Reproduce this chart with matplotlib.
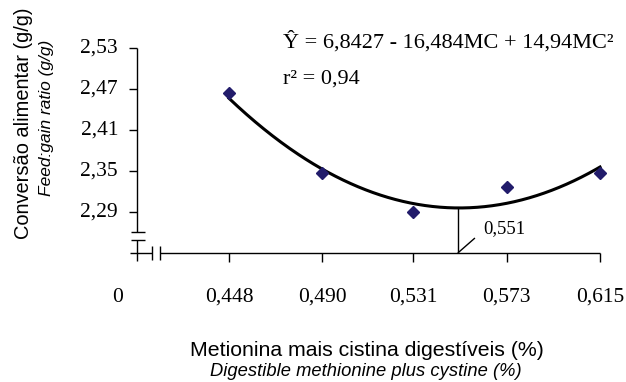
import numpy as np
import matplotlib
matplotlib.use("Agg")
import matplotlib.pyplot as plt

# Data
x_levels = [0.448, 0.490, 0.531, 0.573, 0.615]
x_labels = ["0,448", "0,490", "0,531", "0,573", "0,615"]
y_obs = [2.464, 2.347, 2.290, 2.327, 2.347]
y_ticks = [2.29, 2.35, 2.41, 2.47, 2.53]
y_ticklabels = ["2,29", "2,35", "2,41", "2,47", "2,53"]
coef = [6.8427, -16.484, 14.94]
x_opt = 0.551

W, H = 626, 382
fig = plt.figure(figsize=(W / 100, H / 100), dpi=100)

SERIF = "Liberation Serif"
SANS = "Liberation Sans"

def fx(px):
    return px / W

def fy(py):
    return 1 - py / H

# axes covering the plotting area in pixels: x 137..600, y 48..253
ax = fig.add_axes([fx(137), fy(253), fx(600 - 137), (253 - 48) / H])
xmin = 0.448 - (229 - 137) / 2222.0
xmax = 0.615
ymin, ymax = 2.53 - (253 - 48) / 683.0, 2.53
ax.set_xlim(xmin, xmax)
ax.set_ylim(ymin, ymax)
ax.axis("off")

# pixel-to-data helpers
def dx(px):
    return xmin + (px - 137) / 2222.0

def dy(py):
    return 2.53 - (py - 48) / 683.0

lk = dict(color="black", lw=1.0, clip_on=False, solid_capstyle="butt")
# y axis with break
ax.plot([xmin, xmin], [ymax, dy(232)], **lk)
ax.plot([dx(131), dx(145)], [dy(232), dy(232)], **lk)
ax.plot([dx(131), dx(145)], [dy(240), dy(240)], **lk)
ax.plot([xmin, xmin], [dy(240), dy(261)], **lk)
# x axis with break
ax.plot([dx(130), dx(152)], [ymin, ymin], **lk)
ax.plot([dx(152), dx(152)], [dy(246), dy(260)], **lk)
ax.plot([dx(160), dx(160)], [dy(246), dy(260)], **lk)
ax.plot([dx(160), xmax], [ymin, ymin], **lk)

# y ticks
for yt in y_ticks:
    ax.plot([dx(129), xmin], [yt, yt], **lk)
# x ticks
for xt in x_levels:
    ax.plot([xt, xt], [ymin, dy(262)], **lk)

# tick labels
TFS = 15.5
for yt, lab in zip(y_ticks, y_ticklabels):
    ax.text(dx(118), yt, lab, ha="right", va="center", fontsize=TFS,
            family=SERIF, clip_on=False)
for xt, lab in zip(x_levels, x_labels):
    ax.text(xt, dy(297), lab, ha="center", va="center", fontsize=TFS,
            family=SERIF, clip_on=False)
ax.text(dx(118), dy(297), "0", ha="center", va="center", fontsize=TFS,
        family=SERIF, clip_on=False)

# fitted curve
xc = np.linspace(x_levels[0], x_levels[-1], 300)
yc = coef[0] + coef[1] * xc + coef[2] * xc ** 2
ax.plot(xc, yc, color="black", lw=2.2, clip_on=False, zorder=3)

# observed points
ax.plot(x_levels, y_obs, linestyle="none", marker="D", markersize=6.5,
        color="#221c6b", clip_on=False, zorder=4)

# optimum line
y_min_curve = coef[0] + coef[1] * x_opt + coef[2] * x_opt ** 2
ax.plot([x_opt, x_opt], [ymin, y_min_curve], **lk)
ax.plot([x_opt, dx(475)], [ymin, dy(238)], **lk)
ax.text(dx(483), dy(229), "0,551", ha="left", va="center", fontsize=13.5,
        family=SERIF, clip_on=False)

# equation
fig.text(fx(283), fy(42), "Ŷ = 6,8427 - 16,484MC + 14,94MC²", ha="left",
         va="center", fontsize=16, family=SERIF)
fig.text(fx(283), fy(79), "r² = 0,94", ha="left", va="center", fontsize=16,
         family=SERIF)

# axis labels
fig.text(fx(24), fy(123), "Conversão alimentar (g/g)", rotation=90,
         ha="center", va="center", fontsize=14.4, family=SANS)
fig.text(fx(47), fy(118), "Feed:gain ratio (g/g)", rotation=90,
         ha="center", va="center", fontsize=12.5, family=SANS, style="italic")
fig.text(fx(367), fy(350), "Metionina mais cistina digestíveis (%)",
         ha="center", va="center", fontsize=15.3, family=SANS)
fig.text(fx(366), fy(372), "Digestible methionine plus cystine (%)",
         ha="center", va="center", fontsize=13.2, family=SANS, style="italic")

fig.savefig("out.png", dpi=100)
